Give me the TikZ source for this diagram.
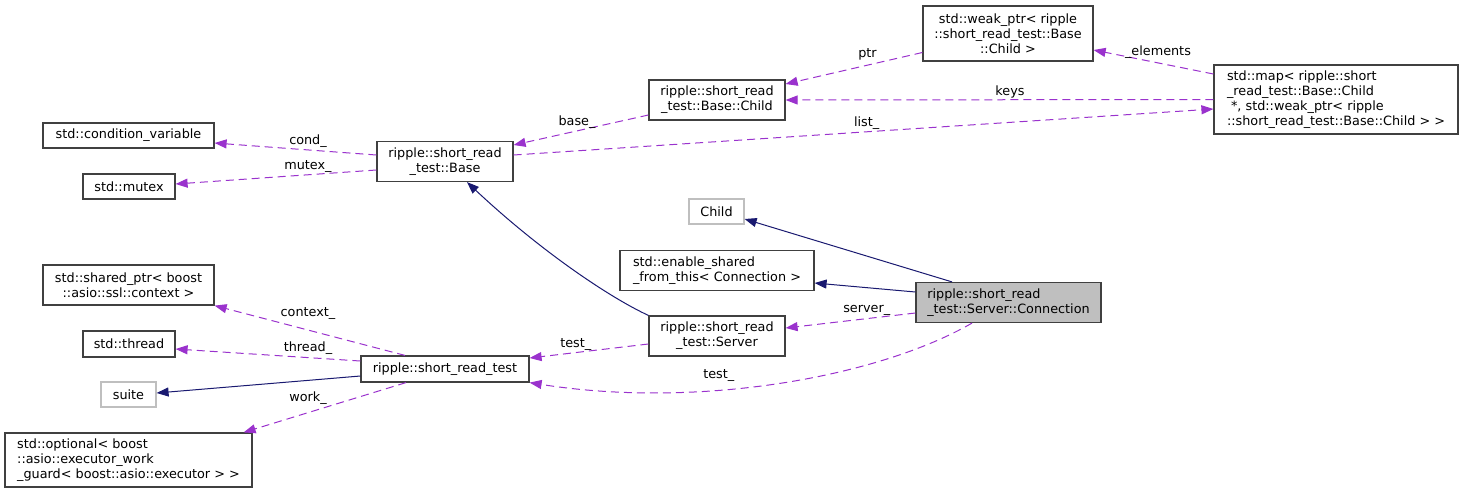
\documentclass[tikz,border=0pt]{standalone}
\usepackage{fontspec}
\setmainfont{DejaVu Sans}
\usetikzlibrary{arrows.meta}
\definecolor{edgepurple}{HTML}{9A32CD}
\definecolor{edgenavy}{HTML}{191970}
\definecolor{grayfill}{HTML}{BFBFBF}
\definecolor{boxline}{HTML}{404040}
\begin{document}
\begin{tikzpicture}[x=1pt,y=1pt,
  font=\fontsize{12.8}{15}\selectfont,
  box/.style={draw=boxline, line width=1.2pt, rectangle, inner sep=0pt, align=center},
  lbox/.style={box, align=left},
  graybox/.style={draw=grayfill, line width=1.2pt, rectangle, inner sep=0pt, align=center},
  member/.style={draw=edgepurple, line width=1pt, dash pattern=on 8pt off 5pt,
    -{Triangle[length=12pt,width=9pt]}},
  inherit/.style={draw=edgenavy, line width=1pt, -{Triangle[length=12pt,width=9pt]}},
  elabel/.style={inner sep=0pt, text height=9.3pt, text depth=0pt}
]
\useasboundingbox (0,0) rectangle (1463,-493);

% nodes
\node[box, minimum width=171pt, minimum height=25pt] (cv) at (128.5,-135.5) {std::condition\_variable};
\node[box, minimum width=92pt, minimum height=25pt] (mutex) at (129,-186.5) {std::mutex};
\node[box, minimum width=136pt, minimum height=40pt] (base) at (445,-161.5) {ripple::short\_read\\\_test::Base};
\node[box, minimum width=136pt, minimum height=40pt] (bchild) at (717,-100) {ripple::short\_read\\\_test::Base::Child};
\node[box, minimum width=170pt, minimum height=55pt] (weak) at (1008,-33.5) {std::weak\_ptr< ripple\\::short\_read\_test::Base\\::Child >};
\node[lbox, minimum width=244pt, minimum height=69pt] (map) at (1336,-99.5) {std::map< ripple::short\\\_read\_test::Base::Child\\\ *, std::weak\_ptr< ripple\\::short\_read\_test::Base::Child > >};
\node[graybox, minimum width=55pt, minimum height=25pt] (childg) at (716.5,-211.5) {Child};
\node[lbox, minimum width=194pt, minimum height=40pt] (enable) at (717,-270.5) {std::enable\_shared\\\_from\_this< Connection >};
\node[lbox, fill=grayfill, minimum width=185pt, minimum height=40pt] (conn) at (1008.5,-302.5) {ripple::short\_read\\\_test::Server::Connection};
\node[box, minimum width=136pt, minimum height=40pt] (server) at (717,-336) {ripple::short\_read\\\_test::Server};
\node[box, minimum width=171pt, minimum height=40pt] (shared) at (128.5,-285) {std::shared\_ptr< boost\\::asio::ssl::context >};
\node[box, minimum width=92pt, minimum height=26pt] (thread) at (129,-344) {std::thread};
\node[box, minimum width=168pt, minimum height=26pt] (srt) at (445,-369) {ripple::short\_read\_test};
\node[graybox, minimum width=55pt, minimum height=25pt] (suite) at (128.5,-394.5) {suite};
\node[lbox, minimum width=247pt, minimum height=54pt] (opt) at (128.5,-460) {std::optional< boost\\::asio::executor\_work\\\_guard< boost::asio::executor > >};

% edges
\draw[member] ([yshift=-15pt]bchild.west) -- ([yshift=16.5pt]base.east);
\draw[member] ([yshift=-19pt]weak.west) -- ([yshift=16pt]bchild.east);
\draw[member] (map.west) -- (bchild.east);
\draw[member] ([yshift=25.5pt]map.west) -- ([yshift=-16.5pt]weak.east);
\draw[member] ([yshift=6.5pt]base.east) -- ([yshift=-9.5pt]map.west);
\draw[member] ([yshift=6.5pt]base.west) -- ([yshift=-7.5pt]cv.east);
\draw[member] ([yshift=-8.5pt]base.west) -- ([yshift=2.5pt]mutex.east);
\draw[inherit] (server.north west) .. controls +(-39,18) and +(73,-68.5) .. ([xshift=22pt]base.south);
\draw[inherit] ([xshift=-56.5pt]conn.north) -- ([yshift=-7.5pt]childg.east);
\draw[inherit] ([yshift=10.5pt]conn.west) -- ([yshift=-12.5pt]enable.east);
\draw[member] ([yshift=-10.5pt]conn.west) -- ([yshift=8pt]server.east);
\draw[member] ([xshift=-36.5pt]conn.south) .. controls +(-92,-53) and +(171,-27) .. (srt.south east);
\draw[member] ([yshift=-8pt]server.west) -- ([yshift=11pt]srt.east);
\draw[member] ([xshift=-40pt]srt.north) -- (shared.south east);
\draw[member] ([yshift=8pt]srt.west) -- ([yshift=-5pt]thread.east);
\draw[inherit] ([yshift=-7pt]srt.west) -- ([yshift=1.5pt]suite.east);
\draw[member] ([xshift=-39pt]srt.south) -- ([xshift=-9pt]opt.north east);

% edge labels
\node[elabel] (l1) at (577,-120.5) {base\_};
\node[elabel] (l2) at (867.5,-52.5) {ptr};
\node[elabel] (l3) at (1010,-91) {keys};
\node[elabel] (l4) at (1158,-51.3) {\_elements};
\node[elabel] (l5) at (866.7,-122.3) {list\_};
\node[elabel] (l6) at (308,-140) {cond\_};
\node[elabel] (l7) at (308,-165) {mutex\_};
\node[elabel] (l8) at (866.7,-308) {server\_};
\node[elabel] (l9) at (718.8,-374.3) {test\_};
\node[elabel] (l10) at (575.8,-343.3) {test\_};
\node[elabel] (l11) at (308,-312.3) {context\_};
\node[elabel] (l12) at (308,-347.3) {thread\_};
\node[elabel] (l13) at (308,-396.7) {work\_};
\end{tikzpicture}
\end{document}
